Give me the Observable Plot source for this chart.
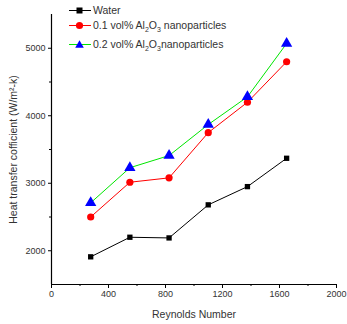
<!DOCTYPE html>
<html><head><meta charset="utf-8">
<script src="https://cdn.jsdelivr.net/npm/d3@7"></script>
<script src="https://cdn.jsdelivr.net/npm/@observablehq/plot@0.6"></script>
<style>
body{margin:0;background:#fff;}
#wrap{position:relative;width:347px;height:324px;font-family:"Liberation Sans",Arial,sans-serif;}
.leg{position:absolute;left:68px;height:14px;display:flex;align-items:center;font-size:10.5px;color:#333;white-space:nowrap;}
.leg svg{margin-right:1px;}
sub{font-size:7px;vertical-align:-3px;line-height:0;}
</style></head>
<body><div id="wrap"></div>
<script>
const reynolds = [275, 550, 825, 1100, 1375, 1650];
const water = [1910, 2200, 2190, 2680, 2950, 3370];
const al01 = [2500, 3015, 3080, 3750, 4200, 4800];
const al02 = [2710, 3230, 3410, 3870, 4280, 5070];
const xTicks = [0, 400, 800, 1200, 1600, 2000];
const xMinor = [200, 600, 1000, 1400, 1800];
const yTicks = [2000, 3000, 4000, 5000];
const yMinor = [2500, 3500, 4500];
const seriesNames = ["Water", "0.1 vol% Al2O3 nanoparticles", "0.2 vol% Al2O3nanoparticles"];

const series = [
  {name: seriesNames[0], vals: water, line: "#000000", fill: "#000000", symbol: "square", r: 3},
  {name: seriesNames[1], vals: al01, line: "#ff0000", fill: "#ff0000", symbol: "circle", r: 3.6},
  {name: seriesNames[2], vals: al02, line: "#00e600", fill: "#0000ff", symbol: "triangle", r: 4.2}
];
const marks = [];
for (const s of series) {
  const d = reynolds.map((x, i) => ({x, y: s.vals[i]}));
  marks.push(Plot.line(d, {x: "x", y: "y", stroke: s.line, strokeWidth: 1}));
}
for (const s of series) {
  const d = reynolds.map((x, i) => ({x, y: s.vals[i]}));
  marks.push(Plot.dot(d, {x: "x", y: "y", fill: s.fill, stroke: "none", symbol: () => s.symbol, r: s.r}));
}
const fmt = d3.format("d");

const chart = Plot.plot({
  width: 347, height: 324,
  marginLeft: 51, marginRight: 11, marginTop: 14, marginBottom: 40,
  style: {fontFamily: "Liberation Sans, Arial, sans-serif", fontSize: "9px", color: "#333", background: "#fff"},
  x: {domain: [0, 2000]},
  y: {domain: [1500, 5500]},
  symbol: {type: "identity"},
  marks: [
    Plot.axisX({ticks: xTicks, tickFormat: fmt, tickSize: 4, tickPadding: 2, label: null, stroke: "#000"}),
    Plot.axisX({ticks: xMinor, tickSize: 2, text: null, label: null, stroke: "#000"}),
    Plot.axisX({ticks: [], label: "Reynolds Number", labelAnchor: "center", labelArrow: "none", labelOffset: 33, fontSize: 10.5}),
    Plot.axisY({ticks: yTicks, tickFormat: fmt, tickSize: 3, tickPadding: 3, label: null, stroke: "#000"}),
    Plot.axisY({ticks: yMinor, tickSize: 2, text: null, label: null, stroke: "#000"}),
    Plot.axisY({ticks: [], label: "Heat transfer cofficient (W/m²-k)", labelAnchor: "center", labelArrow: "none", labelOffset: 42, fontSize: 10.5}),
    Plot.ruleY([1500], {stroke: "#000", strokeWidth: 1.2}),
    Plot.ruleX([0], {stroke: "#000", strokeWidth: 1.2}),
    ...marks
  ]
});
const wrap = document.getElementById("wrap");
wrap.appendChild(chart);

function sym(s) {
  let m;
  if (s.symbol === "square") m = `<rect x="8.5" y="3.5" width="6" height="6" fill="${s.fill}"/>`;
  else if (s.symbol === "circle") m = `<circle cx="11.5" cy="6.5" r="3.6" fill="${s.fill}"/>`;
  else m = `<path d="M11.5,2.3 L15.8,9.8 L7.2,9.8 Z" fill="${s.fill}"/>`;
  return `<svg width="24" height="13"><line x1="1" x2="23" y1="6.5" y2="6.5" stroke="${s.line}" stroke-width="1"/>${m}</svg>`;
}
const labelsHtml = seriesNames.map(n => n.replace("Al2O3", "Al<sub>2</sub>O<sub>3</sub>"));
const tops = [3, 18, 37];
series.forEach((s, i) => {
  const div = document.createElement("div");
  div.className = "leg";
  div.style.top = tops[i] + "px";
  div.innerHTML = sym(s) + "<span>" + labelsHtml[i] + "</span>";
  wrap.appendChild(div);
});
</script></body></html>
